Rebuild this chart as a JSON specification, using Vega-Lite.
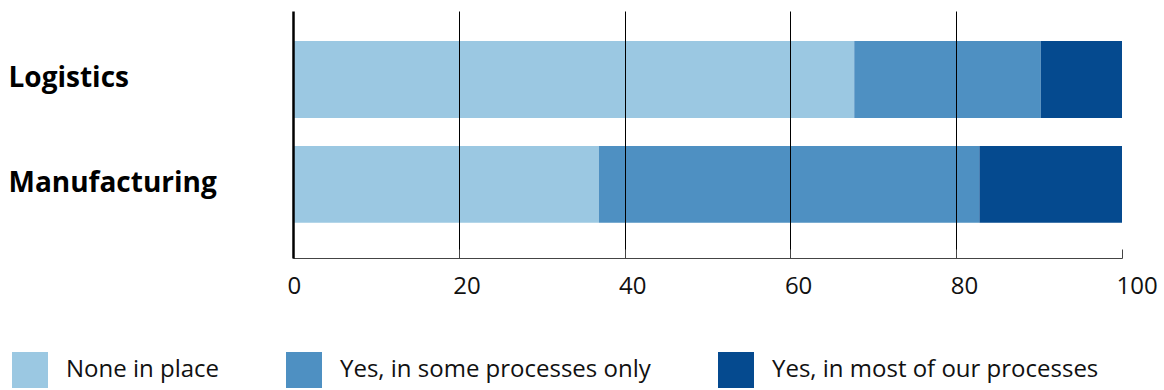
{
  "$schema": "https://vega.github.io/schema/vega-lite/v6.json",
  "width": 829,
  "height": 247,
  "padding": {"left": 8, "top": 11, "right": 0, "bottom": 0},
  "background": "white",
  "config": {"view": {"stroke": null}, "font": "Open Sans"},
  "data": {
    "values": [
      {"sector": "Logistics", "answer": "None in place", "k": 1, "pct": 67.7},
      {"sector": "Logistics", "answer": "Yes, in some processes only", "k": 2, "pct": 22.5},
      {"sector": "Logistics", "answer": "Yes, in most of our processes", "k": 3, "pct": 9.8},
      {"sector": "Manufacturing", "answer": "None in place", "k": 1, "pct": 36.9},
      {"sector": "Manufacturing", "answer": "Yes, in some processes only", "k": 2, "pct": 45.9},
      {"sector": "Manufacturing", "answer": "Yes, in most of our processes", "k": 3, "pct": 17.2}
    ]
  },
  "mark": {"type": "bar", "strokeWidth": 0},
  "encoding": {
    "y": {
      "field": "sector",
      "type": "nominal",
      "sort": ["Logistics", "Manufacturing"],
      "scale": {"paddingInner": 0.267, "paddingOuter": 0.31, "align": 0.46},
      "axis": {
        "title": null,
        "ticks": false,
        "grid": false,
        "domain": true,
        "domainColor": "#000000",
        "domainWidth": 2.5,
        "labelAlign": "left",
        "labelPadding": 285,
        "labelFont": "Open Sans",
        "labelFontWeight": "bold",
        "labelFontSize": 28,
        "labelColor": "#000000",
        "labelBaseline": "middle",
        "labelLimit": 400,
        "zindex": 1
      }
    },
    "x": {
      "field": "pct",
      "type": "quantitative",
      "stack": "zero",
      "scale": {"domain": [0, 100], "nice": false},
      "axis": {
        "title": null,
        "values": [0, 20, 40, 60, 80, 100],
        "grid": true,
        "gridColor": "#000000",
        "gridWidth": 1,
        "gridOpacity": {"condition": {"test": "datum.value === 0 || datum.value === 100", "value": 0}, "value": 1},
        "ticks": true,
        "tickSize": -9,
        "tickColor": "#444444",
        "tickWidth": 1,
        "domainColor": "#444444",
        "domainWidth": 1,
        "labelAlign": "left",
        "labelOffset": -6,
        "labelPadding": 25,
        "labelBaseline": "top",
        "labelFont": "Open Sans",
        "labelFontSize": 24,
        "labelColor": "#111111",
        "zindex": 1
      }
    },
    "color": {
      "field": "answer",
      "type": "nominal",
      "scale": {
        "domain": ["None in place", "Yes, in some processes only", "Yes, in most of our processes"],
        "range": ["#9BC8E2", "#4E90C2", "#054A8F"]
      },
      "legend": {
        "title": null,
        "orient": "none",
        "direction": "horizontal",
        "legendX": -281,
        "legendY": 341,
        "symbolType": "square",
        "symbolSize": 1296,
        "symbolStrokeWidth": 0,
        "symbolOpacity": 1,
        "labelFont": "Open Sans",
        "labelFontSize": 24,
        "labelColor": "#111111",
        "labelOffset": 18,
        "columnPadding": 67,
        "labelLimit": 500
      }
    },
    "order": {"field": "k", "type": "quantitative"}
  }
}
